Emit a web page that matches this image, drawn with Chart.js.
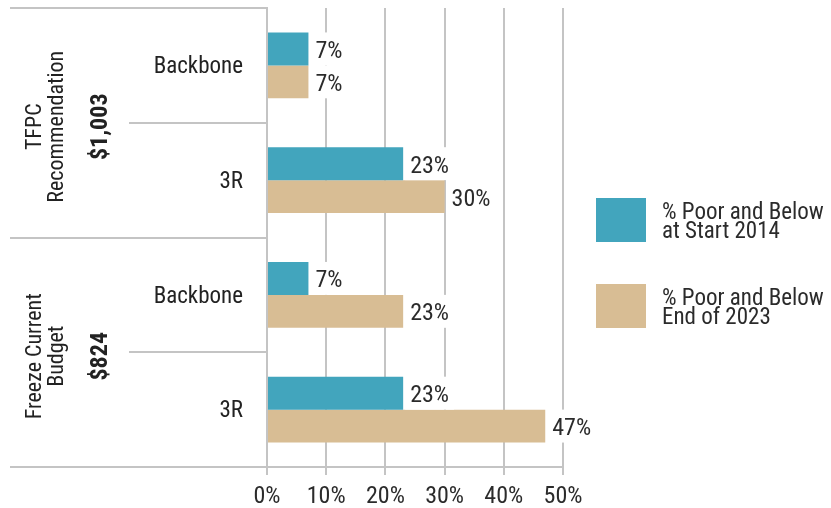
<!DOCTYPE html>
<html>
<head>
<meta charset="utf-8">
<script src="https://cdn.jsdelivr.net/npm/chart.js@4.4.0/dist/chart.umd.min.js"></script>
<style>
  body { margin: 0; background: #fff; }
  #wrap { position: relative; width: 831px; height: 508px; }
  #legend {
    position: absolute; left: 596px; top: 198px;
    font-family: "Liberation Sans Narrow", "Roboto Condensed", "DejaVu Sans Condensed", sans-serif;
    font-size: 23px; color: #2b2b2b;
  }
  .item { display: flex; align-items: center; height: 44px; margin-bottom: 42px; }
  .swatch { width: 50px; height: 44px; margin-right: 16px; }
  .label { line-height: 19px; padding-top: 2px; white-space: nowrap; }
</style>
</head>
<body>
<div id="wrap">
  <canvas id="chart" width="831" height="508"></canvas>
  <div id="legend"></div>
</div>
<script>
const categories = ["Backbone", "3R", "Backbone", "3R"];
const start2014 = [7, 23, 7, 23];
const end2023 = [7, 30, 23, 47];
const seriesNames = [["% Poor and Below", "at Start 2014"], ["% Poor and Below", "End of 2023"]];
const seriesColors = ["#42a5bd", "#d8bd94"];
const groupTitles = [["TFPC", "Recommendation"], ["Freeze Current", "Budget"]];
const groupBudgets = ["$1,003", "$824"];

const FONT = '"Liberation Sans Narrow", "Roboto Condensed", "DejaVu Sans Condensed", sans-serif';
const LINE = "#c4c4c4";

// legend as html, built from the series
const legend = document.getElementById("legend");
seriesNames.forEach((name, i) => {
    const item = document.createElement("div");
    item.className = "item";
    const sw = document.createElement("div");
    sw.className = "swatch";
    sw.style.background = seriesColors[i];
    const txt = document.createElement("div");
    txt.className = "label";
    txt.innerHTML = name.join("<br>");
    item.appendChild(sw);
    item.appendChild(txt);
    legend.appendChild(item);
});

// frame lines + group labels on the left
const sidePlugin = {
    id: "side",
    afterDraw(chart) {
        const ctx = chart.ctx;
        const y = chart.scales.y;
        const area = chart.chartArea;
        const step = (area.bottom - area.top) / categories.length;
        ctx.save();
        ctx.strokeStyle = LINE;
        ctx.lineWidth = 2;
        for (let k = 0; k <= categories.length; k++) {
            const py = Math.round(area.top + k * step);
            const x0 = (k % 2 === 0) ? 10 : 129;
            ctx.beginPath();
            ctx.moveTo(x0, py);
            ctx.lineTo(area.left, py);
            ctx.stroke();
        }
        ctx.fillStyle = "#222";
        ctx.textAlign = "center";
        ctx.textBaseline = "middle";
        groupTitles.forEach((lines, g) => {
            const cy = (y.getPixelForTick(2 * g) + y.getPixelForTick(2 * g + 1)) / 2 + 4;
            ctx.save();
            ctx.translate(0, cy);
            ctx.rotate(-Math.PI / 2);
            ctx.font = "22px " + FONT;
            lines.forEach((l, j) => ctx.fillText(l, 0, 35 + j * 22));
            ctx.font = "bold 24px " + FONT;
            ctx.fillText(groupBudgets[g], 0, 101);
            ctx.restore();
        });
        ctx.restore();
    }
};

// value labels with white background
const valuePlugin = {
    id: "values",
    afterDatasetsDraw(chart) {
        const ctx = chart.ctx;
        ctx.save();
        ctx.font = "24px " + FONT;
        ctx.textBaseline = "middle";
        ctx.textAlign = "left";
        chart.data.datasets.forEach((ds, i) => {
            chart.getDatasetMeta(i).data.forEach((bar, j) => {
                const txt = ds.data[j] + "%";
                const w = ctx.measureText(txt).width;
                const h = bar.height;
                ctx.fillStyle = "#fff";
                ctx.fillRect(bar.x + 2, bar.y - h / 2, w + 10, h);
                ctx.fillStyle = "#2b2b2b";
                ctx.fillText(txt, bar.x + 7, bar.y + 3);
            });
        });
        ctx.restore();
    }
};

new Chart(document.getElementById("chart"), {
    type: "bar",
    data: {
        labels: categories,
        datasets: [
            { label: seriesNames[0].join(" "), data: start2014, backgroundColor: seriesColors[0] },
            { label: seriesNames[1].join(" "), data: end2023, backgroundColor: seriesColors[1] }
        ]
    },
    options: {
        indexAxis: "y",
        responsive: false,
        animation: false,
        categoryPercentage: 0.574,
        barPercentage: 1,
        layout: { padding: { top: 8, right: 268, left: 0, bottom: 0 } },
        plugins: { legend: { display: false }, tooltip: { enabled: false } },
        scales: {
            x: {
                min: 0,
                max: 50,
                ticks: {
                    stepSize: 10,
                    callback: v => v + "%",
                    color: "#2b2b2b",
                    font: { family: FONT, size: 24 },
                    padding: 8,
                    maxRotation: 0
                },
                grid: { color: LINE, lineWidth: 2, tickLength: 8 },
                border: { color: LINE, width: 2 },
                afterFit: s => { s.height = 41; }
            },
            y: {
                ticks: {
                    color: "#222",
                    font: { family: FONT, size: 23 },
                    padding: 16,
                    labelOffset: 2
                },
                grid: { display: false },
                border: { color: LINE, width: 2 },
                afterFit: s => { s.width = 267; s.paddingTop = 0; s.paddingBottom = 0; }
            }
        }
    },
    plugins: [sidePlugin, valuePlugin]
});
</script>
</body>
</html>
